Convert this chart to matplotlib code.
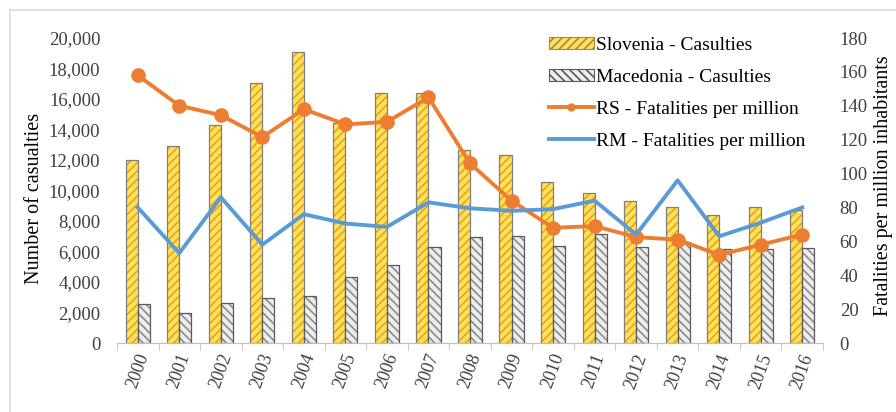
import numpy as np
import matplotlib.pyplot as plt
from matplotlib.patches import Patch
from matplotlib.lines import Line2D

plt.rcParams['font.family'] = ['Liberation Serif', 'DejaVu Serif']
plt.rcParams['hatch.linewidth'] = 1.2

years = [str(y) for y in range(2000, 2017)]
slovenia_cas = [12000, 12950, 14300, 17050, 19080, 14450, 16380, 16380, 12650, 12330,
                10560, 9840, 9330, 8920, 8400, 8920, 8700]
macedonia_cas = [2560, 1980, 2620, 2950, 3100, 4330, 5110, 6300, 6950, 7020,
                 6360, 7150, 6300, 6620, 6170, 6170, 6230]
rs_fat = [158, 140, 134.5, 121.5, 138, 129, 130.5, 145, 106, 84,
          68, 69, 62.5, 61, 52, 58, 64]
rm_fat = [80, 53, 86, 58, 76, 70.5, 68.5, 83, 79.5, 78,
          79, 84, 64, 96, 63, 71, 80]

x = np.arange(len(years))
w = 0.29

fig = plt.figure(figsize=(8.96, 4.12), dpi=100)
ax = fig.add_axes([117/896, 1-343/412, 706/896, 305/412])
ax2 = ax.twinx()

# bars: fill+hatch first, outline on top
ax.bar(x - w/2, slovenia_cas, w, color='#FFE066', hatch='////', edgecolor='#E8A800', linewidth=0)
ax.bar(x - w/2, slovenia_cas, w, fill=False, edgecolor='#7F7F7F', linewidth=0.9)
ax.bar(x + w/2, macedonia_cas, w, color='#EDEDED', hatch='\\\\\\\\', edgecolor='#8C8C8C', linewidth=0)
ax.bar(x + w/2, macedonia_cas, w, fill=False, edgecolor='#595959', linewidth=0.9)

ax2.plot(x, rs_fat, color='#ED7D31', lw=2.8, marker='o', ms=9.5, zorder=3)
ax2.plot(x, rm_fat, color='#5B9BD5', lw=2.8, zorder=3)

ax.set_xlim(-0.5, len(years) - 0.5)
ax.set_ylim(0, 20000)
ax2.set_ylim(0, 180)
ax.set_yticks(np.arange(0, 20001, 2000))
ax.set_yticklabels([f'{v:,}' for v in range(0, 20001, 2000)])
ax2.set_yticks(np.arange(0, 181, 20))

ax.set_xticks(x)
ax.set_xticklabels(years, rotation=70, ha='center', va='top')
ax.set_xticks(np.arange(-0.5, len(years)), minor=True)
ax.tick_params(axis='x', which='major', length=0, pad=6, labelsize=13)
ax.tick_params(axis='x', which='minor', length=5, color='#BFBFBF')
ax.tick_params(axis='y', length=0, labelsize=13.5, pad=12, colors='#404040')
ax2.tick_params(axis='y', length=0, labelsize=13.5, pad=12, colors='#404040')
for lbl in ax.get_xticklabels():
    lbl.set_color('#404040')

for a in (ax, ax2):
    for s in ('top', 'left', 'right'):
        a.spines[s].set_visible(False)
    a.spines['bottom'].set_color('#BFBFBF')

ax.set_ylabel('Number of casualties', fontsize=14.5)
ax2.set_ylabel('Fatalities per million inhabitants', fontsize=14.5)
ax.yaxis.set_label_coords(-0.104, 0.475)
ax2.yaxis.set_label_coords(1.072, 0.515)

handles = [
    Patch(facecolor='#FFE066', hatch='////', edgecolor='#B08A2A', lw=0.8),
    Patch(facecolor='#EDEDED', hatch='\\\\\\\\', edgecolor='#595959', lw=0.8),
    Line2D([], [], color='#ED7D31', lw=2.8, marker='o', ms=5),
    Line2D([], [], color='#5B9BD5', lw=2.8),
]
labels = ['Slovenia - Casulties', 'Macedonia - Casulties',
          'RS - Fatalities per million', 'RM - Fatalities per million']
ax2.legend(handles, labels, loc='upper left', bbox_to_anchor=(0.601, 1.03), frameon=False,
           fontsize=14, handlelength=2.3, handleheight=0.6, handletextpad=0.1,
           labelspacing=0.77, borderaxespad=0)

# light frame around the chart area
fig.add_artist(Line2D([10/896, 10/896], [0, 1-10/412], color='#D9D9D9', lw=1.2))
fig.add_artist(Line2D([10/896, 1], [1-10/412, 1-10/412], color='#D9D9D9', lw=1.2))

fig.savefig('out.png', dpi=100)
